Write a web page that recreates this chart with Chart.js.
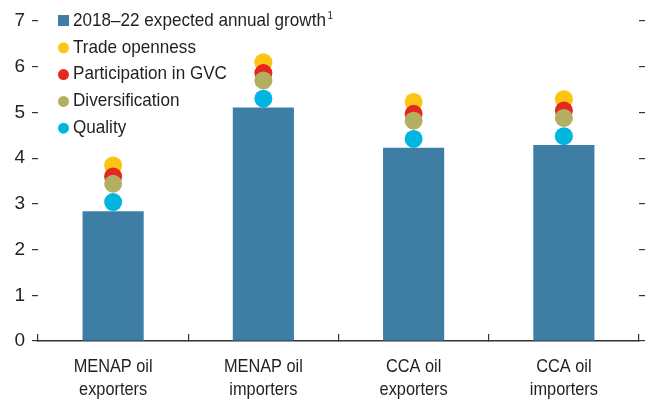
<!DOCTYPE html>
<html>
<head>
<meta charset="utf-8">
<script src="https://cdn.jsdelivr.net/npm/chart.js@4/dist/chart.umd.min.js"></script>
<style>
  html, body { margin: 0; padding: 0; background: #fff; }
</style>
</head>
<body>
<canvas id="growth-chart" width="652" height="403"></canvas>
<script>
const categories = [['MENAP oil', 'exporters'], ['MENAP oil', 'importers'], ['CCA oil', 'exporters'], ['CCA oil', 'importers']];
const expectedGrowth = [2.84, 5.11, 4.23, 4.29];
const tradeOpenness = [3.84, 6.10, 5.23, 5.29];
const participationGVC = [3.60, 5.86, 4.97, 5.04];
const diversification = [3.44, 5.70, 4.82, 4.88];
const quality = [3.04, 5.30, 4.42, 4.48];
const yMin = 0, yMax = 7, yStep = 1;

const fontFamily = "'Liberation Sans Narrow', 'Arial Narrow', 'Liberation Sans', Arial, sans-serif";
const textColor = '#231f20';
const axisColor = '#333333';

Chart.defaults.font.family = fontFamily;
Chart.defaults.font.size = 19;
Chart.defaults.color = textColor;

// no narrow face around, so squeeze the regular one sideways
function narrowText(ctx, text, x, y, squeeze) {
    ctx.save();
    ctx.translate(x, y);
    ctx.scale(squeeze, 1);
    ctx.fillText(text, 0, 0);
    ctx.restore();
    return ctx.measureText(text).width * squeeze;
}

// legend stacked in the top-left corner, square for the bars, dots for the rest
const cornerLegend = {
    id: 'cornerLegend',
    afterDraw(chart) {
        const ctx = chart.ctx;
        ctx.save();
        ctx.textBaseline = 'middle';
        ctx.textAlign = 'left';
        chart.data.datasets.forEach((ds, i) => {
            const y = 20.5 + i * 26.8;
            ctx.fillStyle = ds.backgroundColor;
            if (ds.type === 'bar') {
                ctx.fillRect(58, y - 5.5, 11, 11);
            } else {
                ctx.beginPath();
                ctx.arc(63.5, y + 0.5, 5.5, 0, Math.PI * 2);
                ctx.fill();
            }
            ctx.fillStyle = textColor;
            ctx.font = '19px ' + fontFamily;
            const w = narrowText(ctx, ds.label, 73, y, 0.9);
            if (ds.note) {
                ctx.font = '11px ' + fontFamily;
                narrowText(ctx, ds.note, 73 + w + 1.5, y - 5, 0.9);
            }
        });
        ctx.restore();
    }
};

// two-line category names under the x axis
const categoryLabels = {
    id: 'categoryLabels',
    afterDraw(chart) {
        const ctx = chart.ctx;
        const xScale = chart.scales.x;
        ctx.save();
        ctx.font = '19px ' + fontFamily;
        ctx.fillStyle = textColor;
        ctx.textAlign = 'center';
        ctx.textBaseline = 'alphabetic';
        chart.data.labels.forEach((lines, i) => {
            const cx = xScale.getPixelForTick(i);
            lines.forEach((line, j) => {
                narrowText(ctx, line, cx, xScale.top + 31 + j * 23, 0.86);
            });
        });
        ctx.restore();
    }
};

function dots(label, data, color, order) {
    return {
        type: 'line',
        label: label,
        data: data,
        showLine: false,
        backgroundColor: color,
        borderColor: color,
        pointBackgroundColor: color,
        pointBorderWidth: 0,
        pointRadius: 9,
        pointHoverRadius: 9,
        clip: false,
        order: order
    };
}

const ctx = document.querySelector('#growth-chart').getContext('2d');
const growthChart = new Chart(ctx, {
    type: 'bar',
    data: {
        labels: categories,
        datasets: [
            {
                type: 'bar',
                label: '2018–22 expected annual growth',
                note: '1',
                data: expectedGrowth,
                backgroundColor: '#3e7ea5',
                categoryPercentage: 1,
                barPercentage: 0.407,
                order: 10
            },
            dots('Trade openness', tradeOpenness, '#fdc513', 4),
            dots('Participation in GVC', participationGVC, '#e4281f', 3),
            dots('Diversification', diversification, '#b4ae60', 2),
            dots('Quality', quality, '#00b6e0', 1)
        ]
    },
    options: {
        responsive: false,
        animation: false,
        devicePixelRatio: 1,
        events: [],
        layout: { padding: { top: 21, left: 0, right: 0, bottom: 0 } },
        plugins: {
            legend: { display: false },
            tooltip: { enabled: false }
        },
        scales: {
            x: {
                grid: {
                    drawOnChartArea: false,
                    drawTicks: true,
                    tickLength: -7,
                    offset: true,
                    color: axisColor,
                    lineWidth: 1.2
                },
                border: { display: true, color: axisColor, width: 1.5 },
                ticks: { display: false },
                afterFit(scale) { scale.height = 62; }
            },
            y: {
                position: 'left',
                min: yMin,
                max: yMax,
                ticks: { stepSize: yStep, padding: 7, color: textColor },
                grid: { drawOnChartArea: false, tickLength: 6, color: axisColor, lineWidth: 1.2 },
                border: { display: false },
                afterFit(scale) { scale.width = 38; }
            },
            y2: {
                position: 'right',
                min: yMin,
                max: yMax,
                ticks: { stepSize: yStep, display: false },
                grid: { drawOnChartArea: false, tickLength: 6, color: axisColor, lineWidth: 1.2 },
                border: { display: false },
                afterFit(scale) { scale.width = 13; }
            }
        }
    },
    plugins: [cornerLegend, categoryLabels]
});
</script>
</body>
</html>
